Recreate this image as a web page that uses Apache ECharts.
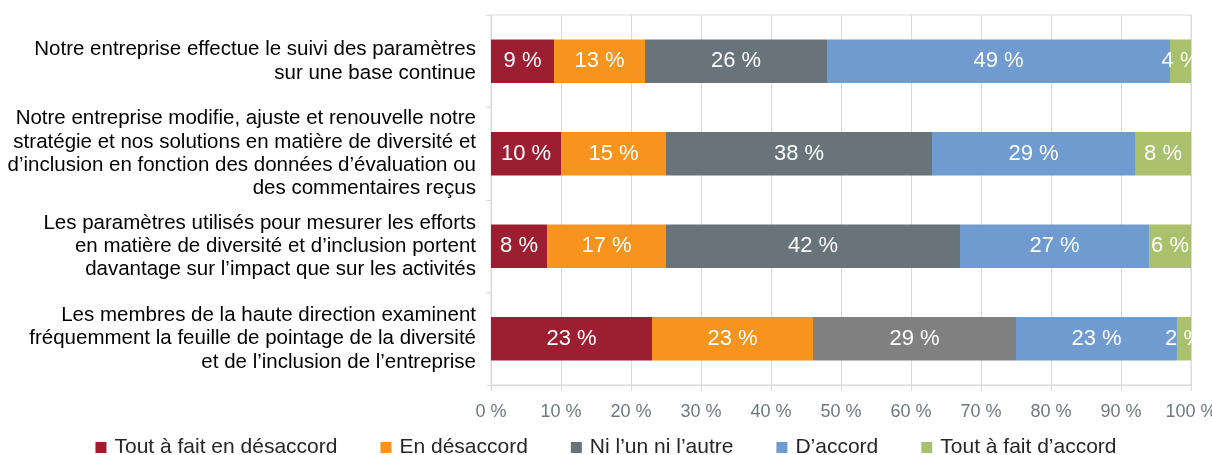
<!DOCTYPE html>
<html>
<head>
<meta charset="utf-8">
<script src="https://cdn.jsdelivr.net/npm/echarts@6/dist/echarts.min.js"></script>
<style>
html,body{margin:0;padding:0;background:#fff;}
#chart{width:1212px;height:455px;}
</style>
</head>
<body>
<div id="chart"></div>
<script>
const categories = [
  "Notre entreprise effectue le suivi des paramètres\nsur une base continue",
  "Notre entreprise modifie, ajuste et renouvelle notre\nstratégie et nos solutions en matière de diversité et\nd’inclusion en fonction des données d’évaluation ou\ndes commentaires reçus",
  "Les paramètres utilisés pour mesurer les efforts\nen matière de diversité et d’inclusion portent\ndavantage sur l’impact que sur les activités",
  "Les membres de la haute direction examinent\nfréquemment la feuille de pointage de la diversité\net de l’inclusion de l’entreprise"
];
const seriesNames = ["Tout à fait en désaccord", "En désaccord", "Ni l’un ni l’autre", "D’accord", "Tout à fait d’accord"];
const toutDesaccord = [9, 10, 8, 23];
const desaccord = [13, 15, 17, 23];
const neutre = [26, 38, 42, 29];
const accord = [49, 29, 27, 23];
const toutAccord = [4, 8, 6, 2];
const xTicks = [0, 10, 20, 30, 40, 50, 60, 70, 80, 90, 100];

const colors = ["#9d1e31", "#f7941d", "#68737a", "#6f9bd1", "#a9c16c"];
const allValues = [toutDesaccord, desaccord, neutre, accord, toutAccord];
const FONT = "'Liberation Sans', Arial, sans-serif";

const series = allValues.map((vals, si) => ({
  name: seriesNames[si],
  type: 'bar',
  stack: 'total',
  barWidth: '47%',
  itemStyle: { color: colors[si] },
  label: {
    show: true,
    position: 'inside',
    color: '#ffffff',
    fontSize: 22,
    fontFamily: FONT,
    formatter: p => p.value + ' %'
  },
  data: vals.map((v, i) => (si === 2 && i === 3) ? { value: v, itemStyle: { color: '#808080' } } : v)
}));

const chart = echarts.init(document.getElementById('chart'), null, { renderer: 'canvas' });
chart.setOption({
  animation: false,
  backgroundColor: '#ffffff',
  textStyle: { fontFamily: FONT },
  grid: {
    left: 491, right: 21, top: 15, bottom: 70,
    outerBoundsMode: 'none',
    containLabel: false,
    show: true, borderColor: '#d9d9d9', borderWidth: 1
  },
  legend: {
    data: seriesNames,
    top: 432,
    left: 'center',
    itemWidth: 11,
    itemHeight: 11,
    itemGap: 43,
    icon: 'rect',
    textStyle: { fontSize: 21, color: '#262626', fontFamily: FONT, padding: [0, 0, 0, 3] }
  },
  xAxis: {
    type: 'value',
    min: 0,
    max: 100,
    interval: 10,
    axisLine: { show: true, lineStyle: { color: '#d9d9d9' } },
    axisTick: { show: true, length: 6, lineStyle: { color: '#d9d9d9' } },
    splitLine: { show: true, lineStyle: { color: '#d9d9d9' } },
    axisLabel: {
      fontSize: 18, color: '#6e7780', fontFamily: FONT, margin: 18,
      formatter: v => (xTicks.indexOf(v) >= 0 ? v + ' %' : '')
    }
  },
  yAxis: {
    type: 'category',
    inverse: true,
    data: categories,
    axisLine: { show: true, lineStyle: { color: '#d9d9d9' } },
    axisTick: { show: true, length: 5, lineStyle: { color: '#d9d9d9' } },
    axisLabel: {
      fontSize: 20.5, color: '#000000', fontFamily: FONT, margin: 15,
      lineHeight: 23.3, align: 'right'
    }
  },
  series: series
});
</script>
</body>
</html>
